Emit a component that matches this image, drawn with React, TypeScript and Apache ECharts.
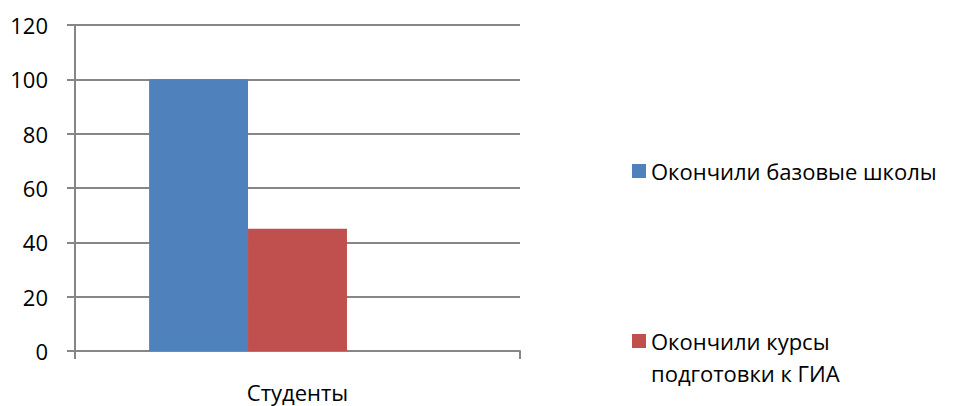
import React, { useEffect, useRef } from "react";
import * as echarts from "echarts";

// Category and series values
const categories = ["Студенты"];
const seriesNames = ["Окончили базовые школы", "Окончили курсы подготовки к ГИА"];
const baseSchools = [100];
const giaCourses = [45];
const emptySlot = [null];
const yTicks = { min: 0, max: 120, interval: 20 };

const FONT = "'Open Sans', 'Noto Sans', sans-serif";
const GRAY = "#868686";
const SIZE = 22;

export default function App() {
  const ref = useRef<HTMLDivElement>(null);

  useEffect(() => {
    if (!ref.current) return;
    const chart = echarts.init(ref.current, undefined, { renderer: "svg" });
    chart.setOption({
      animation: false,
      backgroundColor: "#ffffff",
      textStyle: { fontFamily: FONT, color: "#000" },
      grid: { left: 75, right: 435, top: 25, bottom: 55, containLabel: false },
      legend: [
        {
          data: [seriesNames[0]],
          orient: "vertical",
          left: 632,
          top: 160,
          padding: 0,
          itemWidth: 14,
          itemHeight: 14,
          icon: "rect",
          selectedMode: false,
          textStyle: { fontFamily: FONT, fontSize: SIZE, color: "#000" },
        },
        {
          data: [seriesNames[1]],
          orient: "vertical",
          left: 632,
          top: 293,
          padding: 0,
          itemWidth: 14,
          itemHeight: 14,
          icon: "rect",
          selectedMode: false,
          // blank first line keeps the icon level with "Окончили курсы"
          formatter: () => "\nОкончили курсы\nподготовки к ГИА",
          textStyle: {
            fontFamily: FONT,
            fontSize: SIZE,
            color: "#000",
            lineHeight: 32,
          },
        },
      ],
      xAxis: {
        type: "category",
        data: categories,
        axisLine: { show: true, lineStyle: { color: GRAY, width: 2 } },
        axisTick: { show: true, length: 8, lineStyle: { color: GRAY, width: 2 } },
        axisLabel: { fontFamily: FONT, fontSize: SIZE, color: "#000", margin: 30 },
      },
      yAxis: {
        type: "value",
        min: yTicks.min,
        max: yTicks.max,
        interval: yTicks.interval,
        axisLine: { show: true, lineStyle: { color: GRAY, width: 2 } },
        axisTick: { show: true, length: 8, lineStyle: { color: GRAY, width: 2 } },
        splitLine: { show: true, lineStyle: { color: GRAY, width: 2 } },
        axisLabel: { fontFamily: FONT, fontSize: SIZE, color: "#000", margin: 27 },
      },
      series: [
        {
          name: seriesNames[0],
          type: "bar",
          data: baseSchools,
          itemStyle: { color: "#4F81BD" },
          barGap: "0%",
          barCategoryGap: "33.3%",
        },
        {
          name: seriesNames[1],
          type: "bar",
          data: giaCourses,
          itemStyle: { color: "#C0504D" },
          barGap: "0%",
          barCategoryGap: "33.3%",
        },
        {
          name: "",
          type: "bar",
          data: emptySlot,
          itemStyle: { color: "#9BBB59" },
          barGap: "0%",
          barCategoryGap: "33.3%",
        },
      ],
    });
    return () => chart.dispose();
  }, []);

  return (
    <div
      ref={ref}
      style={{ position: "fixed", left: 0, top: 0, width: 955, height: 406, background: "#fff" }}
    />
  );
}
